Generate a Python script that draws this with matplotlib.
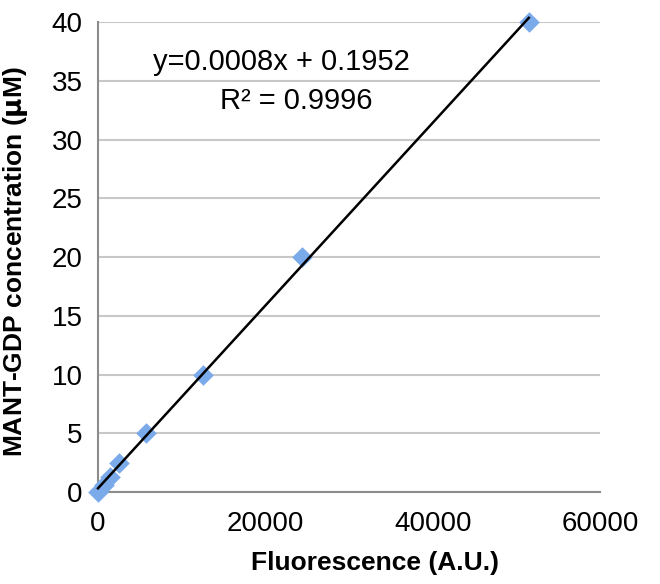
import numpy as np
import matplotlib
matplotlib.use("Agg")
import matplotlib.pyplot as plt

plt.rcParams['font.family'] = ['Liberation Sans', 'DejaVu Sans']

# fluorescence readings vs. known concentrations
fluorescence = np.array([0, 700, 1450, 2550, 5750, 12500, 24400, 51500])
concentration = np.array([0, 0.625, 1.25, 2.5, 5, 10, 20, 40])

slope, intercept = np.polyfit(fluorescence, concentration, 1)

fig = plt.figure(figsize=(6.6, 5.84), dpi=100)
ax = fig.add_axes([0.1485, 0.1575, 0.7605, 0.8048])

ax.scatter(fluorescence, concentration, marker='D', s=110, color='#7aaaea',
           zorder=3, linewidths=0, clip_on=False)
xs = np.array([fluorescence.min(), fluorescence.max()])
ax.plot(xs, slope * xs + intercept, color='black', lw=1.8, zorder=4, clip_on=False)

ax.set_xlim(0, 60000)
ax.set_ylim(0, 40)
ax.set_xticks([0, 20000, 40000, 60000])
ax.set_yticks(range(0, 41, 5))
ax.yaxis.grid(True, color='#c8c8c8', lw=1.5)
ax.set_axisbelow(True)
for s in ['top', 'right']:
    ax.spines[s].set_visible(False)
for s in ['left', 'bottom']:
    ax.spines[s].set_color('#8c8c8c')
    ax.spines[s].set_linewidth(1.5)
ax.tick_params(length=0, labelsize=20)
ax.tick_params(axis='x', pad=14)
ax.tick_params(axis='y', pad=11)

ax.set_xlabel('Fluorescence (A.U.)', fontsize=19, fontweight='bold')
ax.set_ylabel('MANT-GDP concentration ($\\mathbf{\\mu}$M)', fontsize=19, fontweight='bold')
ax.xaxis.set_label_coords(0.552, -0.125)
ax.yaxis.set_label_coords(-0.135, 0.49)

ax.text(0.365, 0.915, 'y=0.0008x + 0.1952', transform=ax.transAxes, ha='center', va='center', fontsize=21)
ax.text(0.394, 0.832, 'R² = 0.9996', transform=ax.transAxes, ha='center', va='center', fontsize=21)

fig.savefig('out.png', dpi=100)
